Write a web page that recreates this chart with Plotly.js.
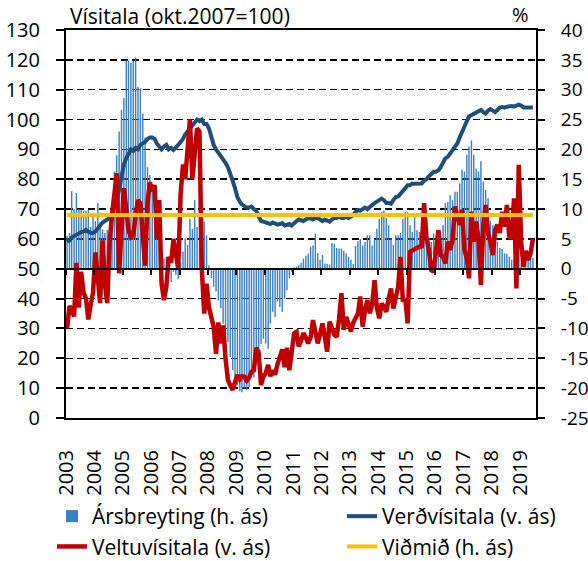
<!DOCTYPE html>
<html><head><meta charset="utf-8">
<script src="https://cdn.plot.ly/plotly-3.0.1.min.js"></script>
<style>html,body{margin:0;padding:0;background:#fff}#chart{width:588px;height:561px}</style>
</head><body><div id="chart"></div>
<script>
// Monthly data, Jan 2003 - Jun 2019
const startYear = 2003;
// Verðvísitala (v. ás)
const verd = [
 59, 59.5, 60.5, 61, 61.5, 62, 62.3, 62.5, 63, 62.5, 62, 62,
 62.5, 63.5, 64.5, 65.5, 66, 66.5, 67, 68.5, 70.5, 73, 76.5, 81,
 85, 87, 88.5, 90, 89.5, 90.5, 90, 91.5, 92, 92.5, 93.5, 94,
 94, 93.5, 92, 91, 90, 91, 91.5, 90, 90.5, 89.8, 90.5, 91.5,
 92.5, 93.5, 95, 96, 97, 98, 99, 100, 99.5, 100, 98.5, 98.5,
 97, 94, 91.5, 90, 89, 88, 87, 85.5, 84, 82, 79.5, 77,
 74, 72.5, 71.5, 71, 70.5, 70.5, 70.8, 70, 69.5, 67.5, 66, 65.8,
 65.5, 65.2, 65, 65.5, 65, 64.8, 65, 65.3, 64.5, 64.7, 65, 64.5,
 65.5, 66, 66.5, 66.3, 66, 66.5, 67, 66.8, 66.5, 67, 67, 66.5,
 66, 66.5, 66, 65.8, 66.5, 67, 67, 67.5, 67, 67, 67.5, 67,
 67.5, 68, 69, 69.7, 69.5, 70, 70.5, 70, 70.8, 71.5, 72, 72.5,
 73, 73.5, 73, 72, 72, 71.8, 73, 74, 74.2, 75, 76, 77,
 78, 78, 78.5, 78.5, 78.5, 78.8, 78.6, 79.5, 80, 81, 82, 82.5,
 82.5, 83, 84, 85.5, 87, 87.5, 88.5, 89.5, 91, 92, 94, 96,
 97.5, 99.5, 101, 101.5, 102, 102.5, 103, 103.2, 102.5, 102, 103, 103.5,
 103, 102.5, 103.2, 104, 104.2, 104, 104.3, 104.5, 104.5, 104.3, 104.8, 105,
 104.7, 104, 104, 104, 103.8, 104
];
// Veltuvísitala (v. ás)
const veltu = [
 30, 37.5, 36.5, 34, 52, 37, 49, 42, 40, 33, 38, 42,
 55.5, 45, 38.5, 59.5, 45, 38.5, 58.5, 68, 75, 82, 48.5, 65,
 77, 70, 63, 60.5, 61, 68, 73, 72, 58, 51, 72, 79,
 76, 78, 60, 73, 45, 39.5, 44, 54, 52, 60, 55, 50,
 75, 85, 80, 92.5, 100, 80, 90, 97, 96, 50, 35, 45,
 37, 33, 30.6, 21.5, 32, 25, 31, 20, 12.7, 11, 9.4, 12,
 14.4, 13, 14, 13.8, 12.5, 13.5, 15.5, 16, 23.5, 22, 11, 14,
 15, 17.8, 14, 16, 14.5, 18, 20.5, 23, 17, 23.5, 16, 21,
 28.4, 28.9, 24, 26, 28.4, 27, 25, 27, 32.8, 29, 25, 28,
 31.7, 27, 22.2, 32.3, 30, 28, 27.2, 33, 41.8, 29.5, 33.9, 31,
 29, 32, 33.9, 35, 40.7, 30.6, 36, 39.5, 35.1, 38, 46.2, 37,
 33.4, 38.4, 37.3, 35.6, 40, 43.4, 36.7, 40, 44, 54, 39, 40,
 31.7, 55.7, 56, 56.5, 57, 57.4, 57.5, 72, 60.2, 56.3, 49.6, 49,
 57, 63, 54.6, 54, 51.8, 59.1, 56.3, 59.6, 70.8, 67.4, 64.7, 69.7,
 56.3, 53.5, 46.8, 69.1, 59.1, 65.8, 60, 44.6, 64.7, 71.4, 61.9, 59.1,
 54.6, 63, 64.7, 62, 69.1, 64.1, 71.4, 60.8, 60.2, 73.6, 43.4, 84.8,
 59, 50.7, 56, 53, 55, 60
];
// Ársbreyting (h. ás), %
const ars = [
 5.5, 6, 13, 10, 12.7, 10, 9.8, 9.6, 9.7, 9.8, 7, 9,
 8, 11, 7.8, 6.6, 6, 6.5, 7, 10, 16.3, 19, 23, 26.6,
 28.6, 34.9, 34.9, 34.5, 34.9, 35.4, 30.5, 30.2, 26, 22, 17, 15.7,
 14, 10, 7.3, 4, 3, 1.7, 2, -0.5, -2.2, -0.5, -1, -1.7,
 1, 2.9, 5.1, 4, 8.4, 6.7, 11.5, 7, 11.5, 6.5, 7.9, 5.6,
 0.6, -1.6, -3, -3.8, -5.3, -6.6, -9.2, -11, -12.3, -14.8, -17, -18.2,
 -19.5, -20.5, -20.7, -20, -20.3, -19.8, -17.8, -18.2, -15, -16, -12.6, -11.7,
 -12.5, -13.4, -9.2, -7.2, -8.1, -5.5, -6.4, -7.2, -5, -3.6, -1.6, -0.5,
 0.2, 0.4, 0.6, 1, 1.7, 2.2, 2.5, 3.7, 3.9, 5.9, 2.6, 1.5,
 2.3, 0.9, 0.8, 0.7, 4.3, 4.2, 3.5, 3.4, 3.4, 3, 2.6, 2,
 1.5, 0.8, 3.8, 4.6, 5, 3.9, 4.5, 5.6, 5.6, 3.9, 5, 6.7,
 8.4, 9.5, 9.7, 8.5, 7.3, 5.1, 4, 5.6, 5.6, 6, 8.4, 9.5,
 9.5, 7.3, 6.2, 8.7, 6.5, 6.2, 8.4, 8, 6.7, 5.1, 4.5, 5.9,
 5, 4.5, 4.7, 7.3, 11, 11.2, 12.3, 11.5, 12.9, 12.9, 14.3, 16.6,
 16.3, 19.1, 20.5, 21.5, 19.1, 16.8, 16.3, 18, 14.6, 13.2, 11.8, 8,
 7.3, 5.6, 4.5, 3.5, 3.3, 2.6, 2.5, 2, 1.5, 1.5, 1.2, 1.5,
 1, 1.3, 1.7, 1.5, 2, 1.8
];
// Viðmið (h. ás), %  – constant reference level
const vidmid = [9, 9];

const leftTicks = [0,10,20,30,40,50,60,70,80,90,100,110,120,130];
const rightTickVals = [-25,-20,-15,-10,-5,0,5,10,15,20,25,30,35,40];
const rightTickText = ['-25','-20','-15','-10','-5','0','5','10','15','20','25','30','35','40'];
const names = ['Ársbreyting (h. ás)','Verðvísitala (v. ás)','Veltuvísitala (v. ás)','Viðmið (h. ás)'];

const months = verd.map((_, i) => {
  const y = startYear + Math.floor(i / 12);
  const m = String(i % 12 + 1).padStart(2, '0');
  return y + '-' + m + '-15';
});
const vidmidX = [months[0], months[months.length - 1]];

const F = '"Open Sans", sans-serif';
const xr = ['2003-01-01', '2019-07-25'];

const traces = [
  {type:'bar', name:names[0], x:months, y:ars, xaxis:'x', yaxis:'y', legend:'legend',
   marker:{color:'#3A80C2', line:{width:0}}},
  {type:'scatter', mode:'lines', name:names[1], x:months, y:verd, xaxis:'x', yaxis:'y2', legend:'legend2',
   line:{color:'#1F4E79', width:4}},
  {type:'scatter', mode:'lines', name:names[2], x:months, y:veltu, xaxis:'x', yaxis:'y2', legend:'legend',
   line:{color:'#C00000', width:4.5}},
  {type:'scatter', mode:'lines', name:names[3], x:vidmidX, y:vidmid, xaxis:'x2', yaxis:'y', legend:'legend2',
   line:{color:'#FFC000', width:4}}
];

const legendCommon = {orientation:'v', xref:'container', yref:'container', yanchor:'top', xanchor:'left',
  font:{size:21}, bgcolor:'rgba(0,0,0,0)', borderwidth:0, tracegroupgap:0, itemwidth:30};

const layout = {
  width:588, height:561,
  margin:{l:66, r:52, t:30, b:143, autoexpand:false},
  paper_bgcolor:'#fff', plot_bgcolor:'#fff',
  font:{family:F, size:19, color:'#000'},
  bargap:0.35,
  showlegend:true,
  xaxis:{type:'date', range:xr, showline:true, linecolor:'#000', linewidth:2, mirror:true,
         ticks:'', tickangle:-90, dtick:'M12', tick0:'2003-01-01', tickformat:'%Y',
         tickfont:{size:20}, showgrid:false, zeroline:false, ticklabelstandoff:22, automargin:false},
  xaxis2:{type:'date', overlaying:'x', anchor:'free', position:50/130, range:xr,
          showline:true, linecolor:'#000', linewidth:2, ticks:'outside', ticklen:5,
          tickwidth:2, tickcolor:'#000', dtick:'M12', tick0:'2003-01-01',
          showticklabels:false, showgrid:false, zeroline:false, automargin:false},
  yaxis:{side:'right', range:[-25,40], tickmode:'array', tickvals:rightTickVals, ticktext:rightTickText,
         showline:true, linecolor:'#000', linewidth:2, ticks:'outside', ticklen:7, tickwidth:2,
         tickcolor:'#000', showgrid:true, gridcolor:'#000', griddash:'7px,4px', gridwidth:1.5,
         zeroline:false, tickfont:{size:19}, ticklabelstandoff:12, automargin:false},
  yaxis2:{overlaying:'y', side:'left', range:[0,130], tickmode:'array', tickvals:leftTicks,
          showline:true, linecolor:'#000', linewidth:2, ticks:'outside', ticklen:8, tickwidth:2,
          tickcolor:'#000', showgrid:false, zeroline:false, tickfont:{size:20}, ticklabelstandoff:12, automargin:false},
  legend:Object.assign({}, legendCommon, {x:52/588, y:1-496/561}),
  legend2:Object.assign({}, legendCommon, {x:342/588, y:1-496/561}),
  annotations:[
    {text:'Vísitala (okt.2007=100)', xref:'paper', yref:'paper', x:2/470, y:1+14/388,
     xanchor:'left', yanchor:'middle', showarrow:false, font:{size:21}},
    {text:'%', xref:'paper', yref:'paper', x:(520-66)/470, y:1+15/388,
     xanchor:'center', yanchor:'middle', showarrow:false, font:{size:20}}
  ]
};

Plotly.newPlot('chart', traces, layout, {displayModeBar:false, staticPlot:true});
</script></body></html>
